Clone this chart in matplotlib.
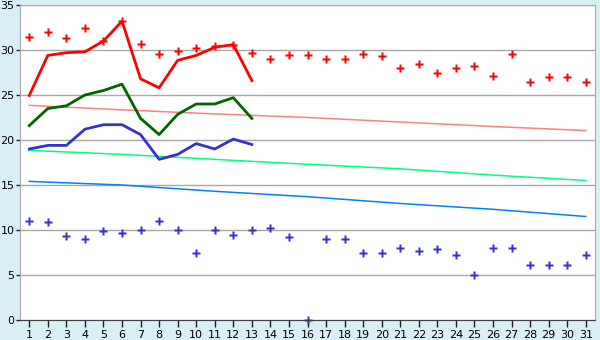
import matplotlib
matplotlib.use("Agg")
import matplotlib.pyplot as plt

# days of the month
days = list(range(1, 32))
days_short = list(range(1, 14))

# upper scatter (red) and lower scatter (blue)
red_dots = [31.4, 32.0, 31.3, 32.4, 31.0, 33.2, 30.7, 29.6, 29.85, 30.2,
            30.4, 30.6, 29.7, 29.0, 29.5, 29.4, 29.0, 29.0, 29.6, 29.3,
            28.0, 28.4, 27.5, 28.0, 28.2, 27.1, 29.6, 26.4, 27.0, 27.0, 26.5]
blue_dots = [11.0, 10.85, 9.3, 8.95, 9.85, 9.65, 10.0, 11.0, 10.0, 7.5,
             10.0, 9.5, 10.0, 10.2, 9.2, 0.0, 8.95, 9.0, 7.5, 7.5,
             8.05, 7.65, 7.85, 7.2, 4.95, 7.95, 7.95, 6.1, 6.1, 6.1, 7.2]

# short lines, days 1..13
red_line = [24.95, 29.4, 29.7, 29.8, 31.0, 33.2, 26.8, 25.8, 28.85, 29.4, 30.3, 30.6, 26.6]
green_line = [21.6, 23.5, 23.8, 25.0, 25.5, 26.2, 22.4, 20.6, 22.85, 24.0, 24.0, 24.7, 22.4]
blue_line = [19.0, 19.4, 19.4, 21.2, 21.7, 21.7, 20.6, 17.85, 18.4, 19.6, 19.0, 20.1, 19.5]

# slowly falling reference lines, read every 5 days
trend_days = [1, 6, 11, 16, 21, 26, 31]
salmon_trend = [23.85, 23.35, 22.9, 22.5, 22.0, 21.5, 21.05]
spring_trend = [18.85, 18.4, 17.85, 17.3, 16.8, 16.1, 15.5]
azure_trend = [15.4, 15.0, 14.3, 13.7, 12.95, 12.3, 11.5]

fig = plt.figure(figsize=(6, 3.4), dpi=100)
fig.patch.set_facecolor("#d9eef5")
ax = fig.add_axes((20 / 600, 20 / 340, 575 / 600, 315 / 340))
ax.set_facecolor("white")

ax.plot(trend_days, salmon_trend, color="#ff8080", lw=1.1)
ax.plot(trend_days, spring_trend, color="#00ff80", lw=1.1)
ax.plot(trend_days, azure_trend, color="#0080ff", lw=1.1)

ax.plot(days_short, red_line, color="#ff0000", lw=2)
ax.plot(days_short, green_line, color="#006400", lw=2)
ax.plot(days_short, blue_line, color="#3333cc", lw=2)

ax.plot(days, red_dots, ls="none", marker="P", ms=5.5, color="#ff0000", mec="none")
ax.plot(days, blue_dots, ls="none", marker="P", ms=5.5, color="#3333cc", mec="none",
        clip_on=False)

ax.set_xlim(0.5, 31.5)
ax.set_ylim(0, 35)
ax.set_xticks(days)
ax.set_yticks(range(0, 36, 5))
ax.yaxis.grid(True, color="#a8a8a8", lw=1)
ax.set_axisbelow(True)

for s in ax.spines.values():
    s.set_color("#a8a8a8")
ax.spines["bottom"].set_color("#404040")
ax.tick_params(axis="x", length=5, width=1, color="#202020", labelsize=8, pad=2)
ax.tick_params(axis="y", length=3, width=1, color="#202020", labelsize=8, pad=1)

fig.savefig("out.png", dpi=100, facecolor=fig.get_facecolor())
